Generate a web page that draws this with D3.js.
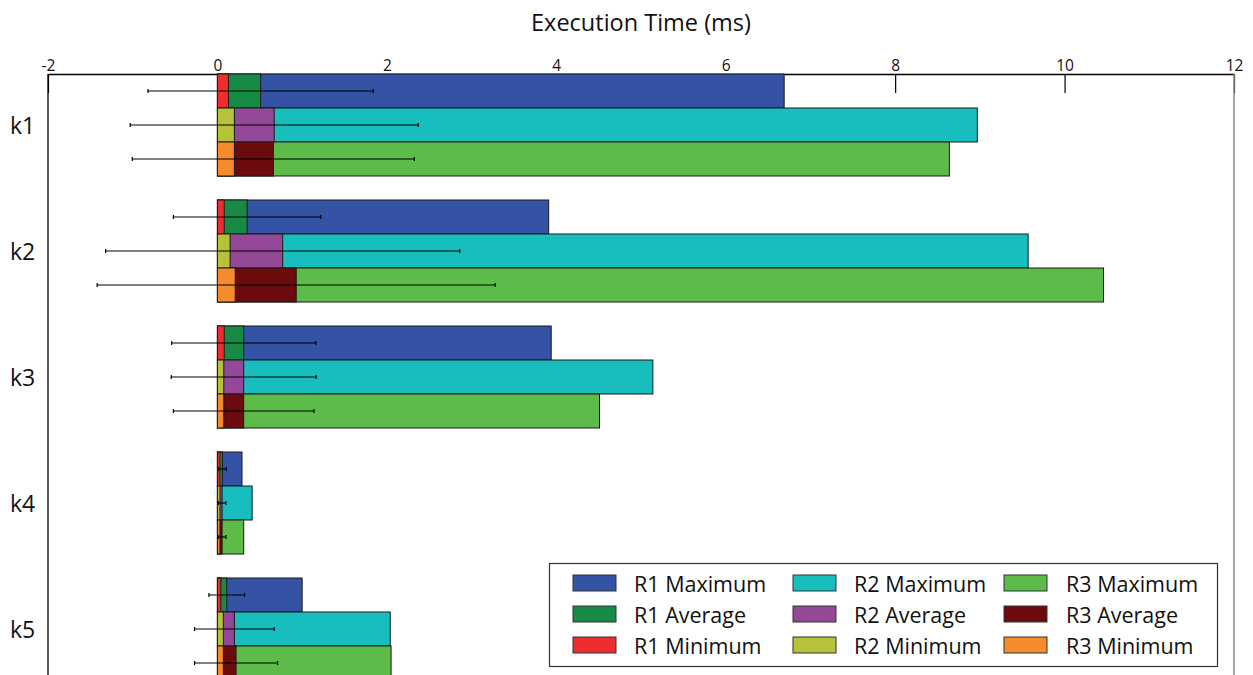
<!DOCTYPE html>
<html>
<head>
<meta charset="utf-8">
<script src="https://cdn.jsdelivr.net/npm/d3@7/dist/d3.min.js"></script>
<style>
  html, body { margin: 0; padding: 0; background: #fff; }
  svg { display: block; font-family: "Open Sans", "Noto Sans", sans-serif; }
</style>
</head>
<body>
<svg id="chart" width="1253" height="675"></svg>
<script>
// Kernels and runs
const categories = ["k1", "k2", "k3", "k4", "k5"];
const runs = ["R1", "R2", "R3"];

// Execution times (ms) per kernel: minimum, average, maximum and spread of each run
const r1Min = [0.13, 0.08, 0.08, 0.03, 0.04];
const r1Avg = [0.51, 0.35, 0.31, 0.06, 0.11];
const r1Max = [6.69, 3.91, 3.94, 0.29, 1.00];
const r1Sd  = [1.33, 0.87, 0.85, 0.045, 0.21];

const r2Min = [0.20, 0.15, 0.075, 0.03, 0.07];
const r2Avg = [0.67, 0.77, 0.31, 0.055, 0.20];
const r2Max = [8.97, 9.57, 5.14, 0.41, 2.04];
const r2Sd  = [1.70, 2.09, 0.855, 0.045, 0.47];

const r3Min = [0.20, 0.21, 0.075, 0.03, 0.07];
const r3Avg = [0.66, 0.93, 0.31, 0.055, 0.22];
const r3Max = [8.64, 10.46, 4.51, 0.31, 2.05];
const r3Sd  = [1.665, 2.35, 0.83, 0.045, 0.49];

const tickValues = [-2, 0, 2, 4, 6, 8, 10, 12];
const tickLabels = ["-2", "0", "2", "4", "6", "8", "10", "12"];

const maxColors = ["#3553a4", "#18bdbe", "#5dbb49"];
const avgColors = ["#178a45", "#944898", "#6b0b0e"];
const minColors = ["#ee2e2e", "#b5c23a", "#f68b2e"];

const mins = [r1Min, r2Min, r3Min];
const avgs = [r1Avg, r2Avg, r3Avg];
const maxs = [r1Max, r2Max, r3Max];
const sds  = [r1Sd, r2Sd, r3Sd];

const svg = d3.select("#chart");

const plotLeft = 48, plotRight = 1234, plotTop = 74;

const x = d3.scaleLinear().domain([-2, 12]).range([plotLeft, plotRight]);

const y = d3.scaleBand()
  .domain(categories)
  .range([plotTop, 680])
  .paddingInner(24 / 126)
  .paddingOuter(0);

const yRun = d3.scaleBand().domain(runs).range([0, y.bandwidth()]);

// Title
svg.append("text")
  .attr("x", 641).attr("y", 31)
  .attr("text-anchor", "middle")
  .attr("font-size", 23.5)
  .attr("fill", "#111")
  .text("Execution Time (ms)");

// Top axis with inward ticks
const axis = d3.axisTop(x)
  .tickValues(tickValues)
  .tickFormat((d, i) => tickLabels[i])
  .tickSizeInner(-19)
  .tickSizeOuter(0)
  .tickPadding(3);

const gAxis = svg.append("g")
  .attr("transform", `translate(0,${plotTop})`)
  .call(axis);
gAxis.select(".domain").attr("stroke", "#000").attr("stroke-width", 1.3);
gAxis.selectAll(".tick line").attr("stroke", "#000").attr("stroke-width", 1.2);
gAxis.selectAll(".tick text")
  .attr("font-size", 15.5)
  .attr("font-family", "'Open Sans', sans-serif")
  .attr("fill", "#111");

// Frame: left and right edges
svg.append("line")
  .attr("x1", plotLeft).attr("x2", plotLeft)
  .attr("y1", plotTop).attr("y2", 700)
  .attr("stroke", "#000").attr("stroke-width", 1.3);
svg.append("line")
  .attr("x1", plotRight).attr("x2", plotRight)
  .attr("y1", plotTop).attr("y2", 700)
  .attr("stroke", "#888").attr("stroke-width", 1.5);

// Category labels
svg.append("g").selectAll("text")
  .data(categories)
  .join("text")
  .attr("x", 10)
  .attr("y", d => y(d) + y.bandwidth() / 2)
  .attr("dominant-baseline", "central")
  .attr("font-size", 23)
  .attr("fill", "#111")
  .text(d => d);

// Bars: maximum, then average, then minimum layered from zero
const rows = [];
categories.forEach((c, ci) => {
  runs.forEach((r, ri) => {
    rows.push({
      cat: c, run: r, ri,
      min: mins[ri][ci], avg: avgs[ri][ci], max: maxs[ri][ci], sd: sds[ri][ci]
    });
  });
});

const gBars = svg.append("g");
const layers = [
  { key: "max", colors: maxColors },
  { key: "avg", colors: avgColors },
  { key: "min", colors: minColors }
];
layers.forEach(layer => {
  gBars.append("g").selectAll("rect")
    .data(rows)
    .join("rect")
    .attr("x", x(0))
    .attr("y", d => y(d.cat) + yRun(d.run))
    .attr("width", d => x(d[layer.key]) - x(0))
    .attr("height", yRun.bandwidth())
    .attr("fill", d => layer.colors[d.ri])
    .attr("stroke", "#1a1a1a")
    .attr("stroke-width", 1);
});

// Error bars around the average
const gErr = svg.append("g").attr("stroke", "#000").attr("stroke-width", 1.2);
rows.forEach(d => {
  const cy = y(d.cat) + yRun(d.run) + yRun.bandwidth() / 2;
  const x0 = x(d.avg - d.sd), x1 = x(d.avg + d.sd);
  gErr.append("line").attr("x1", x0).attr("x2", x1).attr("y1", cy).attr("y2", cy);
  gErr.append("line").attr("x1", x0).attr("x2", x0).attr("y1", cy - 2).attr("y2", cy + 2);
  gErr.append("line").attr("x1", x1).attr("x2", x1).attr("y1", cy - 2).attr("y2", cy + 2);
});

// Legend
const legendRows = ["Maximum", "Average", "Minimum"];
const legendColors = [maxColors, avgColors, minColors];
const colX = [573, 793, 1004];
const textX = [634, 854, 1066];
const rowY = [583, 614, 645];

const gLeg = svg.append("g");
gLeg.append("rect")
  .attr("x", 549.5).attr("y", 563.5)
  .attr("width", 668).attr("height", 103)
  .attr("fill", "#fff")
  .attr("stroke", "#333").attr("stroke-width", 1.2);

legendRows.forEach((label, li) => {
  runs.forEach((r, ri) => {
    gLeg.append("rect")
      .attr("x", colX[ri]).attr("y", rowY[li] - 8)
      .attr("width", 43).attr("height", 16)
      .attr("fill", legendColors[li][ri])
      .attr("stroke", "#333").attr("stroke-width", 1);
    gLeg.append("text")
      .attr("x", textX[ri]).attr("y", rowY[li])
      .attr("dominant-baseline", "central")
      .attr("font-size", 21.5)
      .attr("fill", "#111")
      .text(`${r} ${label}`);
  });
});
</script>
</body>
</html>
